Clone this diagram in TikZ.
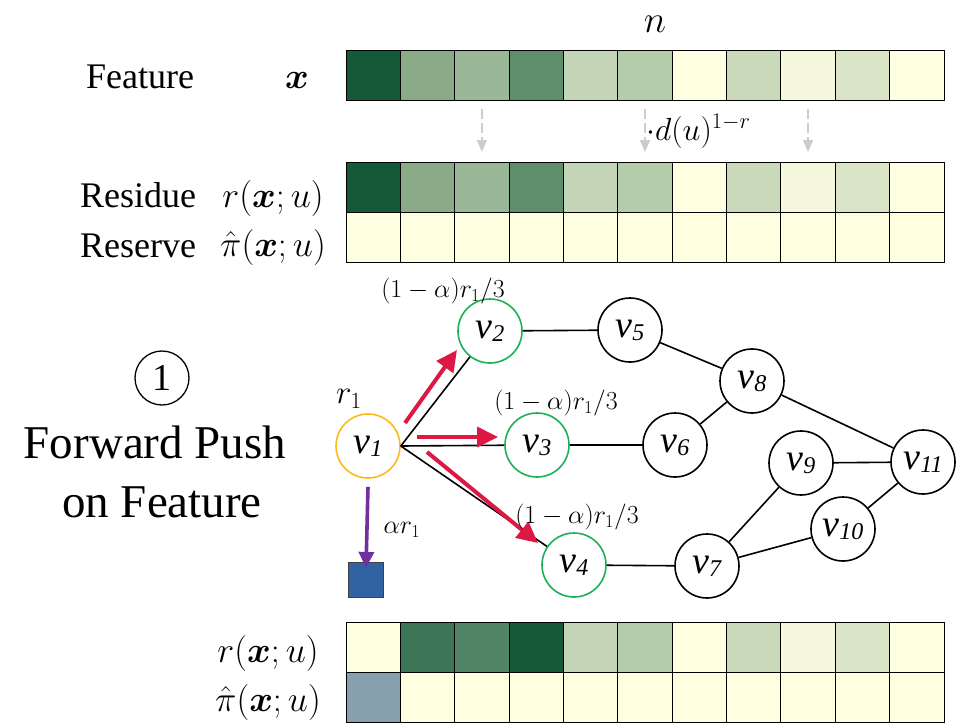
\RequirePackage{fix-cm}
\documentclass[tikz,border=0pt]{standalone}
\usepackage{amsmath}
\usepackage[no-math]{fontspec}
\setmainfont{Liberation Serif}
\usetikzlibrary{arrows.meta}
\definecolor{c1}{HTML}{145A38}
\definecolor{c2}{HTML}{8AAA88}
\definecolor{c3}{HTML}{9AB898}
\definecolor{c4}{HTML}{5F8E6D}
\definecolor{c5}{HTML}{C5D5B8}
\definecolor{c6}{HTML}{B5CCAB}
\definecolor{cy}{HTML}{FEFEE0}
\definecolor{c8}{HTML}{C9D9BA}
\definecolor{c9}{HTML}{F5F8DC}
\definecolor{c10}{HTML}{DAE5C8}
\definecolor{cb2}{HTML}{3D7656}
\definecolor{cb3}{HTML}{528466}
\definecolor{cpi}{HTML}{87A0AE}
\definecolor{vorange}{HTML}{FFB81C}
\definecolor{vgreen}{HTML}{1DB054}
\definecolor{pushred}{HTML}{DC1843}
\definecolor{pushpurple}{HTML}{7030A0}
\definecolor{sqblue}{HTML}{3062A4}
\newcommand{\vlab}[1]{{\fontsize{38}{38}\selectfont\textit{v}}\raisebox{-0.3em}{\fontsize{24}{24}\selectfont\textit{#1}}}
\newcommand{\fs}[1]{\fontsize{#1}{#1}\selectfont}
\newcommand{\fraclab}{{\fs{26}$(1-\alpha)r_1/3$}}
\tikzset{
  cell/.style={draw=black, line width=0.8pt, minimum width=54.36pt, minimum height=50pt, inner sep=0pt, outer sep=0pt},
  vert/.style={circle, draw=black, line width=1.6pt, minimum size=64pt, inner sep=0pt},
  edge/.style={line width=1.6pt, black},
  redpush/.style={line width=4pt, pushred, -{Triangle[length=21pt,width=20pt]}},
  dasharr/.style={line width=2pt, black!20, dash pattern=on 10pt off 4pt, -{Triangle[length=12pt,width=10pt]}},
  lab/.style={inner sep=0pt, anchor=base},
  frac/.style={inner sep=0pt}
}
\begin{document}
\begin{tikzpicture}[x=1pt,y=-1pt]
\useasboundingbox (0,0) rectangle (958,723);
% rows
\foreach \c [count=\i from 0] in {c1,c2,c3,c4,c5,c6,cy,c8,c9,c10,cy}
  \node[cell, fill=\c] (f\i) at ({373.18+\i*54.36},75) {};
\foreach \c [count=\i from 0] in {c1,c2,c3,c4,c5,c6,cy,c8,c9,c10,cy}
  \node[cell, fill=\c] (r\i) at ({373.18+\i*54.36},187) {};
\foreach \i in {0,...,10}
  \node[cell, fill=cy] (p\i) at ({373.18+\i*54.36},237) {};
\foreach \c [count=\i from 0] in {cy,cb2,cb3,c1,c5,c6,cy,c8,c9,c10,cy}
  \node[cell, fill=\c] (br\i) at ({373.18+\i*54.36},647) {};
\foreach \c [count=\i from 0] in {cpi,cy,cy,cy,cy,cy,cy,cy,cy,cy,cy}
  \node[cell, fill=\c] (bp\i) at ({373.18+\i*54.36},697) {};
% labels of rows
\node[lab] (n) at (655,32) {\fs{38}$n$};
\node[lab] (feat) at (140,88) {\fs{36}Feature};
\node[lab] (xl) at (297,88) {\fs{36}$\boldsymbol{x}$};
\node[lab] (res) at (138,207) {\fs{36}Residue};
\node[lab] (resm) at (273,207) {\fs{36}$r(\boldsymbol{x};u)$};
\node[lab] (resv) at (138,257) {\fs{36}Reserve};
\node[lab] (resvm) at (273,256) {\fs{36}$\hat{\pi}(\boldsymbol{x};u)$};
\node[lab] (bresm) at (268,662) {\fs{36}$r(\boldsymbol{x};u)$};
\node[lab] (bresvm) at (268,711) {\fs{36}$\hat{\pi}(\boldsymbol{x};u)$};
% dashed arrows
\foreach \i in {2,5,8}
  \draw[dasharr] ([yshift=-9pt]f\i.south) -- ([yshift=10pt]r\i.north);
\node[inner sep=0pt, anchor=west] (dlab) at (646,131) {\fs{32}$\cdot d(u)^{1-r}$};
% left title
\node[circle, draw=black, line width=1.3pt, minimum size=54pt, inner sep=0pt] (one) at (162,378) {\fs{38}1};
\node[lab] (fp) at (155,458) {\fs{47}Forward Push};
\node[lab] (of) at (162,517) {\fs{47}on Feature};
% graph
\node[vert, draw=vorange] (v1) at (368,446) {\vlab{1}};
\node[vert, draw=vgreen] (v2) at (490,331) {\vlab{2}};
\node[vert, draw=vgreen] (v3) at (537,445) {\vlab{3}};
\node[vert, draw=vgreen] (v4) at (574,565) {\vlab{4}};
\node[vert] (v5) at (630,330) {\vlab{5}};
\node[vert] (v6) at (675,445) {\vlab{6}};
\node[vert] (v7) at (707,566) {\vlab{7}};
\node[vert] (v8) at (752,381) {\vlab{8}};
\node[vert] (v9) at (801,463) {\vlab{9}};
\node[vert] (v10) at (843,529) {\vlab{10}};
\node[vert] (v11) at (923,462) {\vlab{11}};
\draw[edge] (v1.east) -- (v2);
\draw[edge] (v1.east) -- (v3);
\draw[edge] (v1.east) -- (v4);
\draw[edge] (v2) -- (v5);
\draw[edge] (v3) -- (v6);
\draw[edge] (v4) -- (v7);
\draw[edge] (v5) -- (v8);
\draw[edge] (v6) -- (v8);
\draw[edge] (v8) -- (v11);
\draw[edge] (v7) -- (v9);
\draw[edge] (v7) -- (v10);
\draw[edge] (v9) -- (v11);
\draw[edge] (v10) -- (v11);
% push arrows
\coordinate (a2s) at (405,423);
\coordinate (a2e) at (457,350);
\coordinate (a3s) at (417,437);
\coordinate (a3e) at (498,437);
\coordinate (a4s) at (427,452);
\coordinate (a4e) at (538,543);
\draw[redpush] (a2s) -- (a2e);
\draw[redpush] (a3s) -- (a3e);
\draw[redpush] (a4s) -- (a4e);
\node[frac] (l2) at (443,291) {\fraclab};
\node[frac] (l3) at (556,403) {\fraclab};
\node[frac] (l4) at (577,517) {\fraclab};
\node[inner sep=0pt] (r1) at (349,399) {\fs{33}$r_1$};
% reserve push
\node[draw=black!75, line width=1.2pt, fill=sqblue, minimum size=35pt, inner sep=0pt] (sq) at (366,580) {};
\draw[line width=3.6pt, pushpurple, -{Triangle[length=16pt,width=15pt]}] ([yshift=-8pt]v1.south) -- ([yshift=-6pt]sq.north);
\node[inner sep=0pt] (ar) at (402,530) {\fs{26}$\alpha r_1$};
\end{tikzpicture}
\end{document}
